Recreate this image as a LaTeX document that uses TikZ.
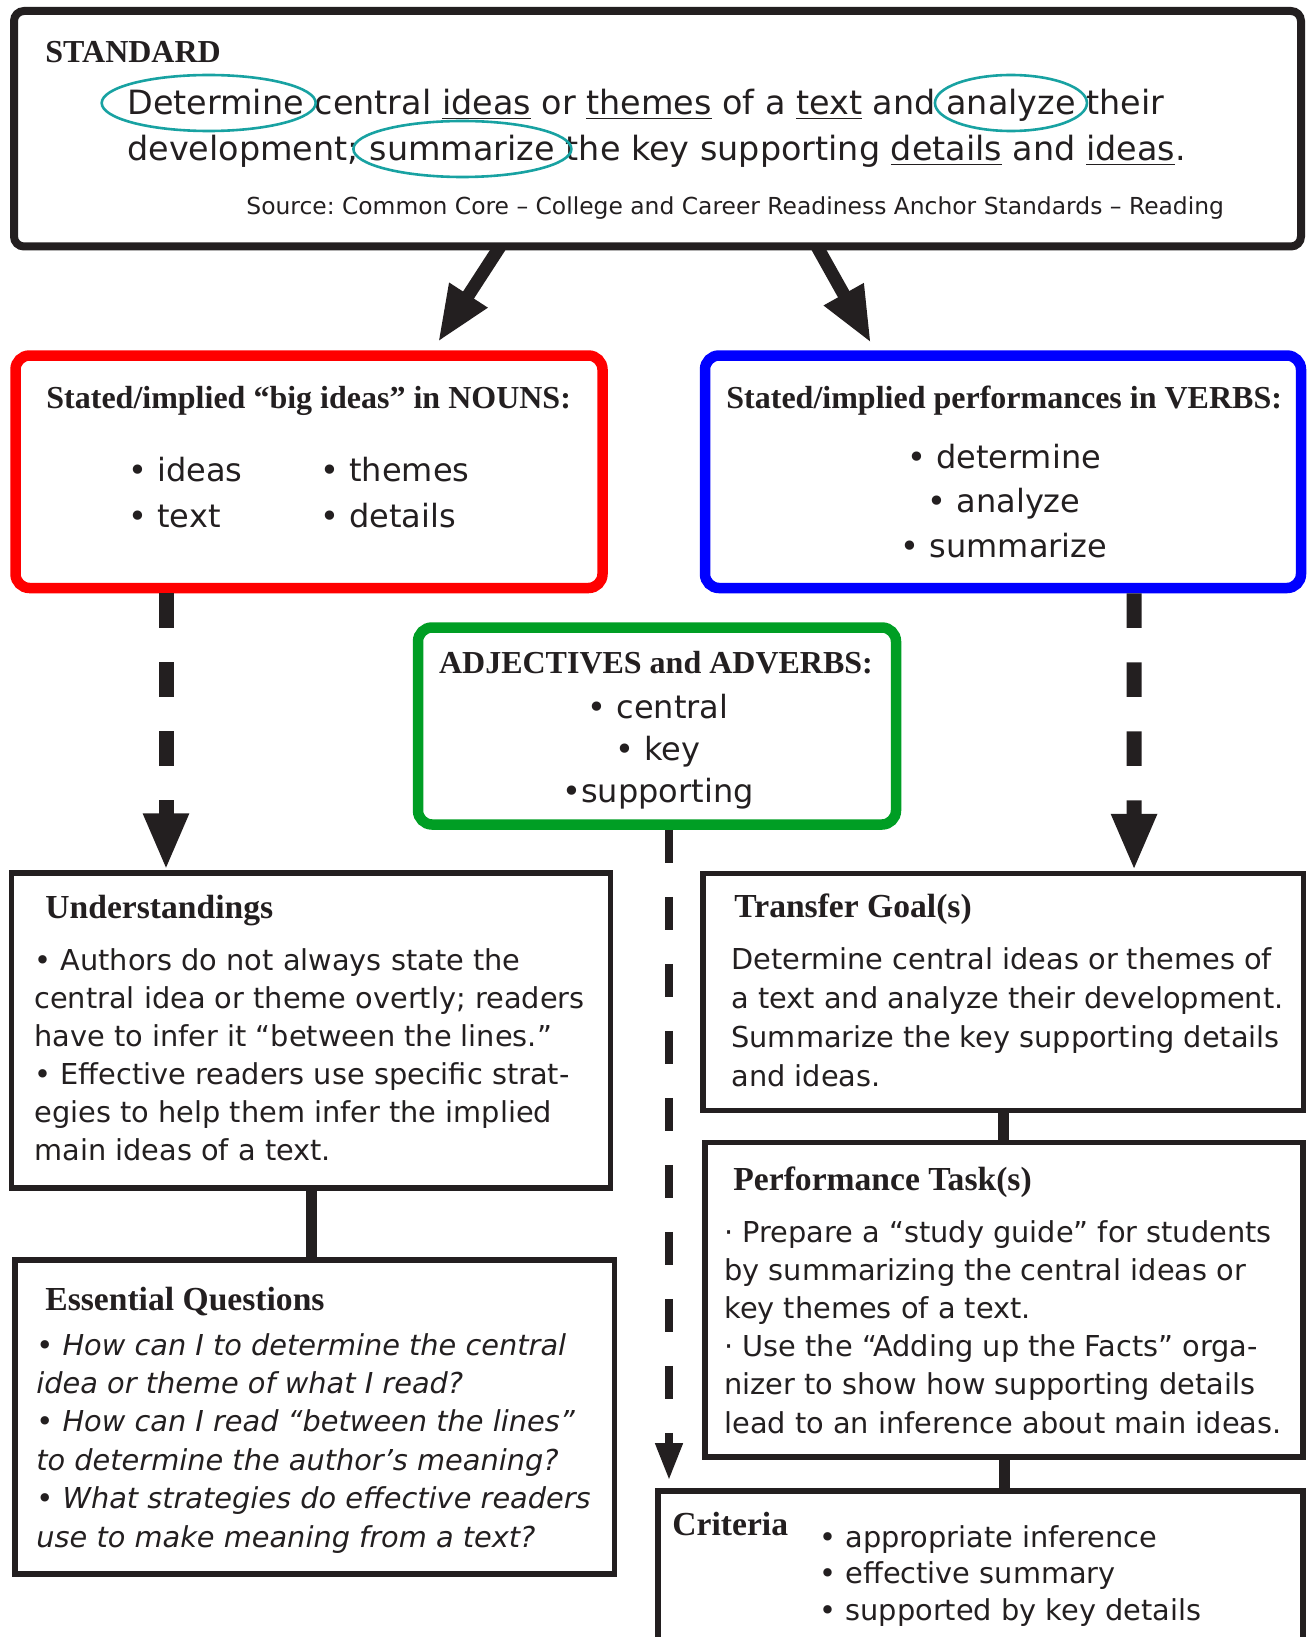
\documentclass[tikz,border=0pt]{standalone}
\usepackage{fontspec}
\setmainfont{DejaVu Sans}
\newfontfamily\hdfamily{Liberation Serif}
\usepackage{tikz}
\usetikzlibrary{arrows.meta,positioning,fit}
\frenchspacing
\definecolor{ink}{RGB}{35,31,32}
\definecolor{nounred}{RGB}{255,0,0}
\definecolor{verbblue}{RGB}{0,0,255}
\definecolor{adjgreen}{RGB}{0,158,36}
\definecolor{ringteal}{RGB}{24,162,162}
\tikzset{
  stdbox/.style={draw=ink, line width=4pt, rounded corners=5pt, inner sep=0pt},
  colbox/.style={draw=#1, line width=5.25pt, rounded corners=7pt, inner sep=0pt},
  plainbox/.style={draw=ink, line width=2.75pt, inner sep=0pt},
  head/.style={inner sep=0pt, anchor=base west, text=ink, font=\hdfamily\bfseries\fontsize{16}{20}\selectfont},
  sechead/.style={head, font=\hdfamily\bfseries\fontsize{16.8}{20}\selectfont},
  stdword/.style={inner sep=0pt, text=ink, font=\fontsize{16.7}{23}\selectfont},
  srctext/.style={inner sep=0pt, anchor=base west, text=ink, font=\fontsize{11.7}{14}\selectfont},
  bodytext/.style={inner sep=0pt, anchor=base west, align=left, text=ink, font=\fontsize{14.4}{19}\selectfont},
  listtext/.style={inner sep=0pt, anchor=base, align=center, text=ink, font=\fontsize{16}{22.25}\selectfont},
  ring/.style={draw=ringteal, line width=1.3pt},
  bigarrow/.style={draw=ink, line width=6.5pt, -{Triangle[length=28pt,width=21pt]}},
  dasharrow/.style={draw=ink, line width=7.5pt, dash pattern=on 17.25pt off 17.25pt, -{Triangle[length=28.5pt,width=21pt]}},
  thindash/.style={draw=ink, line width=3.8pt, dash pattern=on 16.5pt off 17pt, -{Triangle[length=18.5pt,width=13pt]}},
  link/.style={draw=ink, line width=5.5pt}
}

\begin{document}
\begin{tikzpicture}[x=0.5pt, y=-0.5pt]
\useasboundingbox (0,0) rectangle (1309,1637);

% boxes
\node[stdbox, fit={(14,11) (1301,246.5)}] (std) {};
\node[colbox=nounred, fit={(15.5,355.5) (602.5,588)}] (nouns) {};
\node[colbox=verbblue, fit={(705,355.5) (1301,588)}] (verbs) {};
\node[colbox=adjgreen, fit={(418,627.5) (896,824.5)}] (adj) {};
\node[plainbox, fit={(11.5,873) (610.5,1188)}] (under) {};
\node[plainbox, fit={(14.8,1260) (614.5,1574)}] (essq) {};
\node[plainbox, fit={(703,873.5) (1303.5,1110.5)}] (goal) {};
\node[plainbox, fit={(705,1142.5) (1303,1457)}] (task) {};
\node[plainbox, fit={(658,1491) (1303,1700)}] (crit) {};

% standard (multi-line nodes sit on their last baseline)
\node[head] (stdhead) at (45,63) {STANDARD};
\node[stdword, anchor=base west] (wDet) at (127,115) {Determine};
\node[stdword, base right=5pt of wDet] (wMid) {central \underline{ideas} or \underline{themes} of a \underline{text} and};
\node[stdword, base right=5pt of wMid] (wAna) {analyze};
\node[stdword, base right=5pt of wAna] (wThe) {their};
\node[stdword, anchor=base west] (wDev) at (127,161) {development;};
\node[stdword, base right=5pt of wDev] (wSum) {summarize};
\node[stdword, base right=5pt of wSum] (wKey) {the key supporting \underline{details} and \underline{ideas}.};
\draw[ring] ([xshift=-3.5pt,yshift=6pt]wDet.base) ellipse [x radius=53.5pt, y radius=14pt];
\draw[ring] ([yshift=6pt]wAna.base) ellipse [x radius=38pt, y radius=14pt];
\draw[ring] ([yshift=6pt]wSum.base) ellipse [x radius=54.5pt, y radius=14pt];
\node[srctext] (source) at (246,215) {Source: Common Core – College and Career Readiness Anchor Standards – Reading};

% nouns, verbs, modifiers
\node[head] (nounshead) at (46,408) {Stated/implied “big ideas” in NOUNS:};
\node[listtext, anchor=base west, align=left, font=\fontsize{16}{23}\selectfont] (nounsA) at (128,527) {• ideas\\• text};
\node[listtext, anchor=base west, align=left, font=\fontsize{16}{23}\selectfont] (nounsB) at (320,527) {• themes\\• details};
\node[head] (verbshead) at (726,408) {Stated/implied performances in VERBS:};
\node[listtext] (verbslist) at (1004,557) {• determine\\• analyze\\• summarize};
\node[head, anchor=base] (adjhead) at (656,673) {ADJECTIVES and ADVERBS:};
\node[listtext, font=\fontsize{16}{21}\selectfont] (adjlist) at (658,802) {• central\\• key\\•supporting};

% left column
\node[sechead] (underhead) at (45,918) {Understandings};
\node[bodytext] (underbody) at (34,1160) {• Authors do not always state the\\central idea or theme overtly; readers\\have to infer it “between the lines.”\\• Effective readers use specific strat-\\egies to help them infer the implied\\main ideas of a text.};
\node[sechead] (essqhead) at (45,1310) {Essential Questions};
\node[bodytext, font=\itshape\fontsize{14.4}{19.2}\selectfont] (essqbody) at (36,1547) {• How can I to determine the central\\idea or theme of what I read?\\• How can I read “between the lines”\\to determine the author’s meaning?\\• What strategies do effective readers\\use to make meaning from a text?};

% right column
\node[sechead] (goalhead) at (734,917) {Transfer Goal(s)};
\node[bodytext, font=\fontsize{14.4}{19.5}\selectfont] (goalbody) at (731,1086) {Determine central ideas or themes of\\a text and analyze their development.\\Summarize the key supporting details\\and ideas.};
\node[sechead] (taskhead) at (733,1190) {Performance Task(s)};
\node[bodytext, font=\fontsize{14.4}{19.1}\selectfont] (taskbody) at (724,1433) {· Prepare a “study guide” for students\\by summarizing the central ideas or\\key themes of a text.\\· Use the “Adding up the Facts” orga-\\nizer to show how supporting details\\lead to an inference about main ideas.};
\node[sechead] (crithead) at (672,1535) {Criteria};
\node[bodytext, font=\fontsize{14.4}{18.25}\selectfont] (critlist) at (819,1620) {• appropriate inference\\• effective summary\\• supported by key details};

% connectors
\draw[bigarrow] ([xshift=-78.75pt,yshift=2pt]std.south) -- ([xshift=64.5pt,yshift=4.1pt]nouns.north);
\draw[bigarrow] ([xshift=79.75pt,yshift=2pt]std.south) -- ([xshift=-66pt,yshift=3.6pt]verbs.north);
\draw[dasharrow] ([xshift=-71.5pt]nouns.south) -- ([xshift=-72.5pt]under.north);
\draw[dasharrow] ([xshift=65.5pt]verbs.south) -- ([xshift=65.4pt]goal.north);
\draw[thindash] ([xshift=6pt]adj.south) -- ([xshift=-155.75pt,yshift=4.1pt]crit.north);
\draw[link] (under.south) -- (under.south |- essq.north);
\draw[link] (goal.south) -- (goal.south |- task.north);
\draw[link] (task.south) -- (task.south |- crit.north);
\end{tikzpicture}
\end{document}
